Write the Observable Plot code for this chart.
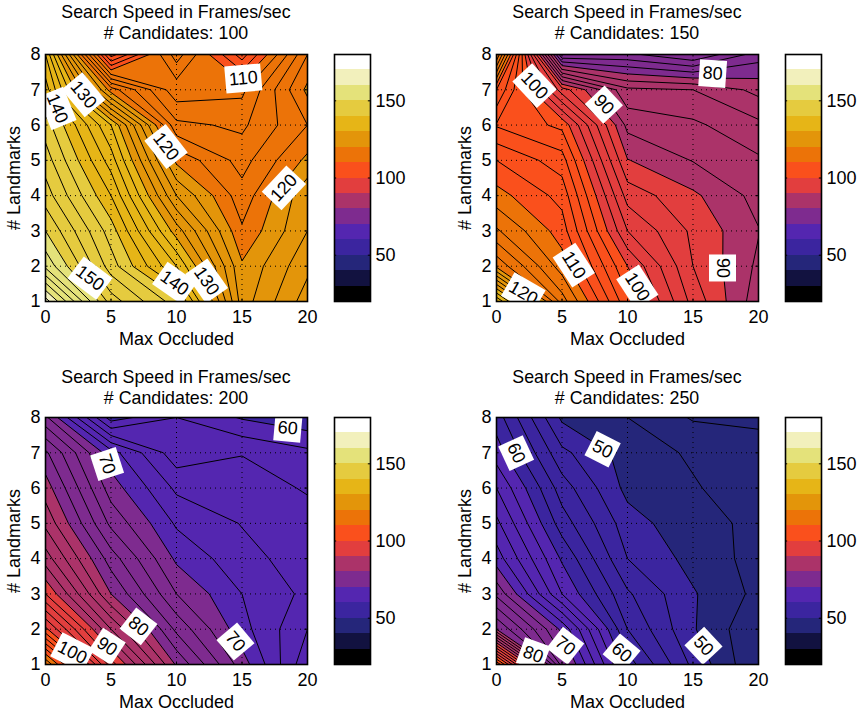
<!DOCTYPE html>
<html><head><meta charset="utf-8">
<script src="https://cdn.jsdelivr.net/npm/d3@7"></script>
<script src="https://cdn.jsdelivr.net/npm/@observablehq/plot@0.6"></script>
<style>
html,body{margin:0;padding:0;background:#fff;}
#page{position:relative;width:859px;height:713px;overflow:hidden;font-family:"Liberation Sans",Arial,sans-serif;color:#000;}
.slot{position:absolute;}
.slot svg{display:block;overflow:visible;background:transparent;max-width:none !important;}
.ttl{position:absolute;width:262px;text-align:center;font-size:17.8px;line-height:21px;white-space:nowrap;}
</style></head><body><div id="page"></div>
<script>
const maxOccluded = [0, 5, 10, 15, 20];
const landmarks = [1, 2, 3, 4, 5, 6, 7, 8];
const xTicks = [0, 5, 10, 15, 20];
const yTicks = [1, 2, 3, 4, 5, 6, 7, 8];
const barTicks = [50, 100, 150];
const bandEdges = [20,30,40,50,60,70,80,90,100,110,120,130,140,150,160,170,180];
const bandColors = ["#000000","#121240","#25267A","#3B259F","#5426B0","#7E2B8F","#AB3369","#E23E3E","#FA501C","#EC7308","#E3950A","#E6B517","#E5CB3F","#E4E27A","#F2F0BC","#FFFFFF"];
const levels = d3.range(20, 180, 2);

// rows run from 1 landmark up to 8; columns from 0 to 20 occluded
const speed100 = [
  163,147,141,121,127,
  153.5,143,134,120.3,125.5,
  150,141,129,118.3,124,
  147,138,124,116.8,123.5,
  145,135,119.5,115.2,120.5,
  143,132,114.5,113.6,118,
  139,119,110.7,111.5,120.5,
  136,103,115,105,118];
const speed150 = [
  136,115,102.5,93.3,86.8,
  119.5,111,100,92,87.6,
  114.3,109,96,91.6,88.1,
  110.8,107.3,93.2,90.4,87.3,
  108,104.9,90.1,87.9,86.3,
  103.8,101.5,87.4,86.4,84.5,
  108,93,84.5,84,81.4,
  120,74,74.5,72,77];
const speed200 = [
  114,93,79.7,71,62.5,
  100.5,86,75.5,68.7,64,
  92,80,72,68,65.5,
  87,77,69.6,66.7,65,
  83.5,73.5,67.7,65.9,64.8,
  81,71,65.6,65,63.8,
  78.4,68.8,62.8,63.9,62.5,
  72.5,59,62,59.8,58.5];
const speed250 = [
  106,73,59,51.5,46.1,
  80,69.5,56,50.2,46.2,
  73.5,62,54.3,50.2,47.45,
  69,59.7,52,49.3,47.25,
  66.5,57,50.9,48.6,47.6,
  64,55,49.4,48.2,46.8,
  61,52.5,49.1,47.7,46.6,
  59,49.6,48,45.8,45.7];

const labels100 = [
  {x:15.1,y:7.32,t:"110",a:-5},{x:0.9,y:6.47,t:"140",a:68},{x:2.9,y:6.86,t:"130",a:50},
  {x:9.2,y:5.39,t:"120",a:52},{x:18.2,y:4.22,t:"120",a:-47},{x:3.4,y:1.66,t:"150",a:37},
  {x:9.85,y:1.52,t:"140",a:35},{x:12.3,y:1.58,t:"130",a:55}];
const labels150 = [
  {x:2.9,y:7.12,t:"100",a:47},{x:8.2,y:6.58,t:"90",a:47},{x:16.5,y:7.46,t:"80",a:4},
  {x:2.05,y:1.24,t:"120",a:30},{x:5.9,y:2.03,t:"110",a:57},{x:10.75,y:1.41,t:"100",a:57},
  {x:17.25,y:1.95,t:"90",a:90}];
const labels200 = [
  {x:4.7,y:6.68,t:"70",a:72},{x:18.5,y:7.7,t:"60",a:5},{x:2.05,y:1.34,t:"100",a:27},
  {x:4.7,y:1.51,t:"90",a:33},{x:7.1,y:2.08,t:"80",a:38},{x:14.5,y:1.65,t:"70",a:50}];
const labels250 = [
  {x:1.5,y:6.99,t:"60",a:65},{x:8.1,y:7.1,t:"50",a:27},{x:2.8,y:1.28,t:"80",a:20},
  {x:5.25,y:1.53,t:"70",a:38},{x:9.55,y:1.34,t:"60",a:40},{x:15.8,y:1.53,t:"50",a:47}];

const panels = [
  {candidates:100, values:speed100, labels:labels100, left:0,   top:44,  titleTop:2},
  {candidates:150, values:speed150, labels:labels150, left:451, top:44,  titleTop:2},
  {candidates:200, values:speed200, labels:labels200, left:0,   top:407, titleTop:367},
  {candidates:250, values:speed250, labels:labels250, left:451, top:407, titleTop:367}
];

const FONT = "Liberation Sans, Arial, sans-serif";
const color = {type:"threshold", domain:bandEdges.slice(1,-1), range:bandColors};
const box = (w,h) => ({draw(c){c.rect(-w/2,-h/2,w,h);}});
const page = document.getElementById("page");

function place(node,left,top){
  const d=document.createElement("div");d.className="slot";d.style.left=left+"px";d.style.top=top+"px";
  d.appendChild(node);page.appendChild(d);
}

for (const p of panels) {
  const t=document.createElement("div");t.className="ttl";
  t.style.left=(p.left+45)+"px";t.style.top=p.titleTop+"px";
  t.innerHTML=`Search Speed in Frames/sec<br># Candidates: ${p.candidates}`;
  page.appendChild(t);

  const chart = Plot.plot({
    width:317, height:302, marginLeft:45, marginRight:10, marginTop:10, marginBottom:45,
    style:{fontFamily:FONT,fontSize:"18px",background:"transparent",color:"#000"},
    x:{domain:[0,20]}, y:{domain:[1,8]}, color,
    marks:[
      Plot.contour(p.values,{width:maxOccluded.length,height:landmarks.length,x1:-2.5,x2:22.5,y1:0.5,y2:8.5,
        value:d=>d,fill:"value",stroke:"#000",strokeWidth:1,thresholds:levels,clip:true}),
      Plot.ruleX(xTicks.slice(1,-1),{stroke:"#000",strokeWidth:1,strokeDasharray:"1,4"}),
      Plot.ruleY(yTicks.slice(1,-1),{stroke:"#000",strokeWidth:1,strokeDasharray:"1,4"}),
      Plot.ruleX(xTicks,{y1:1,y2:1.07,stroke:"#000"}),
      Plot.ruleX(xTicks,{y1:7.93,y2:8,stroke:"#000"}),
      Plot.ruleY(yTicks,{x1:0,x2:0.2,stroke:"#000"}),
      Plot.ruleY(yTicks,{x1:19.8,x2:20,stroke:"#000"}),
      Plot.dot(p.labels.filter(d=>d.t.length===3),{x:"x",y:"y",rotate:"a",r:1,symbol:box(36,27),fill:"#fff",stroke:"none",clip:true}),
      Plot.dot(p.labels.filter(d=>d.t.length===2),{x:"x",y:"y",rotate:"a",r:1,symbol:box(27,27),fill:"#fff",stroke:"none",clip:true}),
      Plot.text(p.labels,{x:"x",y:"y",text:"t",rotate:"a",fontSize:18,fill:"#000",clip:true}),
      Plot.frame({stroke:"#000",strokeWidth:1.6}),
      Plot.axisX({ticks:xTicks,tickSize:0,tickPadding:9,label:"Max Occluded",labelAnchor:"center",labelArrow:"none",labelOffset:43,fontSize:18}),
      Plot.axisY({ticks:yTicks,tickFormat:d=>String(d),tickSize:0,tickPadding:5,label:"# Landmarks",labelAnchor:"center",labelArrow:"none",labelOffset:38,fontSize:18})
    ]
  });
  place(chart,p.left,p.top);

  const bands = bandColors.map((c,i)=>({lo:bandEdges[i],hi:bandEdges[i+1]}));
  const bar = Plot.plot({
    width:78, height:302, marginLeft:4, marginRight:38, marginTop:10, marginBottom:45,
    style:{fontFamily:FONT,fontSize:"18px",background:"transparent",color:"#000"},
    x:{domain:[0,1],axis:null}, y:{domain:[20,180]}, color,
    marks:[
      Plot.rect(bands,{x1:0,x2:1,y1:"lo",y2:"hi",fill:"lo",shapeRendering:"crispEdges"}),
      Plot.ruleY(barTicks,{x1:0,x2:0.06,stroke:"#000"}),
      Plot.ruleY(barTicks,{x1:0.94,x2:1,stroke:"#000"}),
      Plot.frame({stroke:"#000",strokeWidth:1.6}),
      Plot.axisY({anchor:"right",ticks:barTicks,tickSize:0,tickPadding:5,label:null,fontSize:18})
    ]
  });
  place(bar,p.left+330,p.top);
}
</script></body></html>
